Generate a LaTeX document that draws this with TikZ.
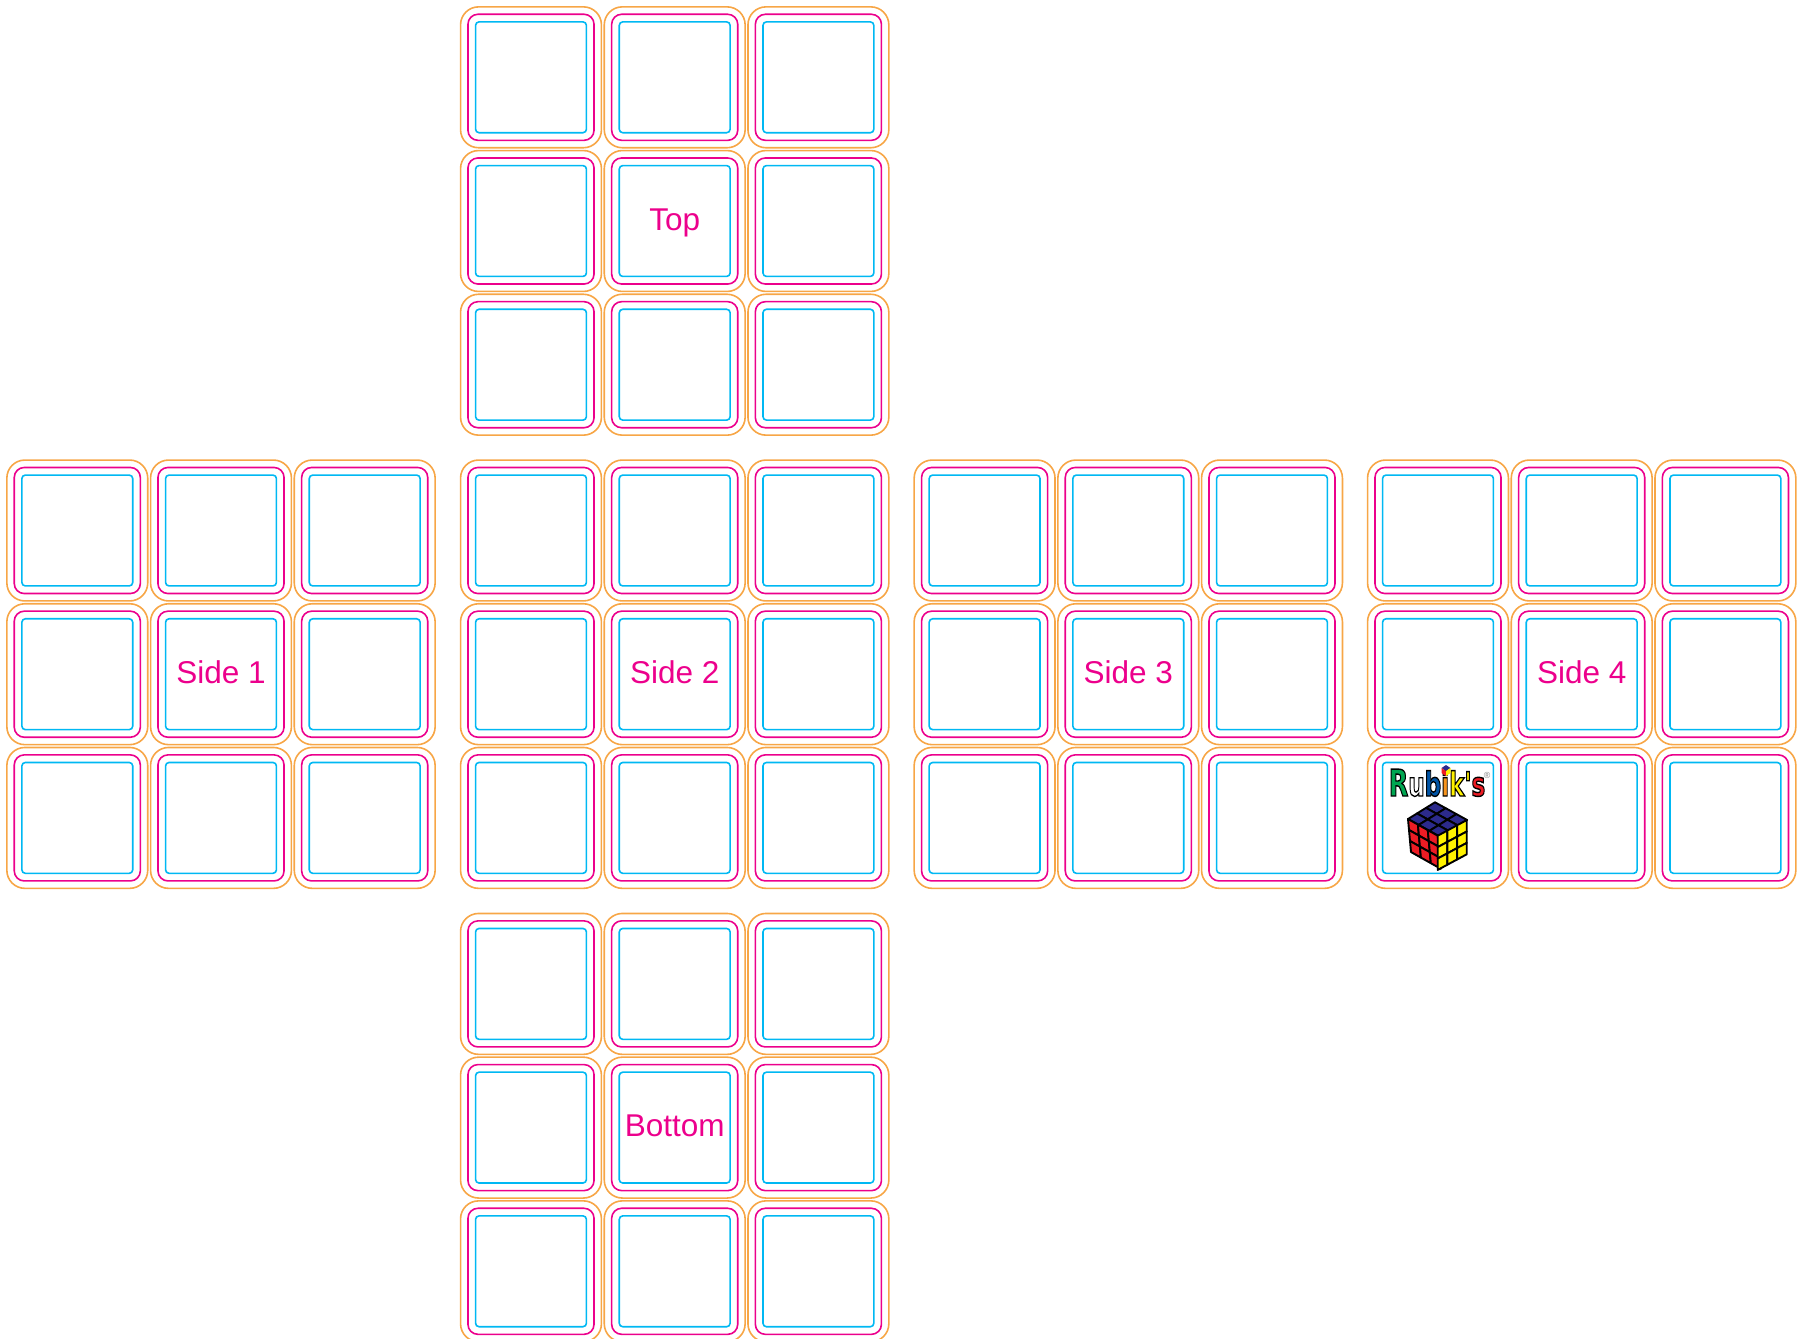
\documentclass[tikz,border=0pt]{standalone}
\usepackage{fontspec}
\setmainfont{Liberation Sans}
\newfontfamily\logofont{DejaVu Sans}
\usepackage{graphicx}
\usetikzlibrary{positioning}
\definecolor{softorange}{RGB}{247,166,70}
\definecolor{softpink}{RGB}{236,0,140}
\definecolor{softcyan}{RGB}{0,184,243}
\definecolor{cubeblue}{RGB}{44,42,140}
\definecolor{cubered}{RGB}{237,28,36}
\definecolor{cubeyellow}{RGB}{255,242,0}
\definecolor{logogreen}{RGB}{0,166,81}
\definecolor{logoblue}{RGB}{0,84,166}
\definecolor{logoorange}{RGB}{247,148,29}
\newcommand{\logoletter}[2]{{\color{#1}\special{pdf:code 0 0 0 RG}#2}}
\tikzset{
    outertile/.style={
        draw=softorange,
        line width=.016cm,
        rounded corners=.18cm,
        inner sep=0pt,
        outer sep=0pt,
        minimum width=1.408cm,
        minimum height=1.408cm
    },
    middletile/.style={
        draw=softpink,
        line width=.016cm,
        rounded corners=.10cm,
        inner sep=0pt,
        outer sep=0pt,
        minimum width=1.26cm,
        minimum height=1.26cm
    },
    innertile/.style={
        draw=softcyan,
        line width=.016cm,
        rounded corners=.035cm,
        inner sep=0pt,
        outer sep=0pt,
        minimum width=1.108cm,
        minimum height=1.108cm
    },
    facelabel/.style={
        text=softpink,
        inner sep=0pt,
        anchor=base,
        yshift=-.091cm,
        font=\fontsize{8.96}{10}\selectfont
    },
    cubecell/.style={
        draw=black,
        line width=.019cm,
        line join=round
    }
}

\begin{document}
\begin{tikzpicture}[x=.01cm,y=-.01cm]

\useasboundingbox (0,0) rectangle (1802,1339);

% ALL SIX FACES
\foreach \facex/\facey/\facename in {531/77.3/top,77.3/530.5/sideone,531/530.5/sidetwo,984.6/530.5/sidethree,1438/530.5/sidefour,531/983.9/bottom}{
    \foreach \col in {0,1,2}{
        \foreach \row in {0,1,2}{
            \node[outertile] (outer\facename\col\row) at (\facex+\col*143.7,\facey+\row*143.7) {};
            \node[middletile] (middle\facename\col\row) at (outer\facename\col\row.center) {};
            \node[innertile] (inner\facename\col\row) at (outer\facename\col\row.center) {};
        }
    }
}

% FACE LABELS
\node[facelabel] (toplabel) at (outertop11) {Top};
\node[facelabel] (sideonelabel) at (outersideone11) {Side 1};
\node[facelabel] (sidetwolabel) at (outersidetwo11) {Side 2};
\node[facelabel] (sidethreelabel) at (outersidethree11) {Side 3};
\node[facelabel] (sidefourlabel) at (outersidefour11) {Side 4};
\node[facelabel] (bottomlabel) at (outerbottom11) {Bottom};

% LOGO
\node[inner sep=0pt,anchor=base] (logotext) at (1437,796)
{\logofont\bfseries\fontsize{9.5}{11}\selectfont\special{pdf:code 2 Tr 0.4 w}\scalebox{.69}[1]{\logoletter{logogreen}{\fontsize{10.5}{12}\selectfont R}\logoletter{white}{u}\logoletter{logoblue}{b}\logoletter{logoorange}{i}\logoletter{cubeyellow}{k}\logoletter{cubeyellow}{'}\logoletter{cubered}{s}}\special{pdf:code 0 Tr}};
\node[inner sep=0pt,text=gray] (logomark) at (1487,775) {\fontsize{2.5}{3}\selectfont ®};
\fill[cubeblue] (1446,765) -- (1450.5,768) -- (1446,771) -- (1441.5,768) -- cycle;
\fill[cubered] (1441.5,768) -- (1446,771) -- (1446,776) -- (1441.5,773) -- cycle;
\fill[cubeyellow] (1450.5,768) -- (1446,771) -- (1446,776) -- (1450.5,773) -- cycle;

% CUBE
\begin{scope}[shift={(1435,802.3)},x={(.107cm,-.059cm)},y={(-.09cm,-.0557cm)}]
\foreach \i in {0,1,2}{
    \foreach \j in {0,1,2}{
        \draw[cubecell,fill=cubeblue] (\i,\j) -- (\i+1,\j) -- (\i+1,\j+1) -- (\i,\j+1) -- cycle;
    }
}
\end{scope}
\begin{scope}[shift={(1408,819)},x={(.099cm,-.0557cm)},y={(.01cm,-.11cm)}]
\foreach \i in {0,1,2}{
    \foreach \j in {0,1,2}{
        \draw[cubecell,fill=cubered] (\i,\j) -- (\i+1,\j) -- (\i+1,\j+1) -- (\i,\j+1) -- cycle;
    }
}
\end{scope}
\begin{scope}[shift={(1437.7,835.7)},x={(.0967cm,.052cm)},y={(0cm,-.114cm)}]
\foreach \i in {0,1,2}{
    \foreach \j in {0,1,2}{
        \draw[cubecell,fill=cubeyellow] (\i,\j) -- (\i+1,\j) -- (\i+1,\j+1) -- (\i,\j+1) -- cycle;
    }
}
\end{scope}

\end{tikzpicture}
\end{document}
